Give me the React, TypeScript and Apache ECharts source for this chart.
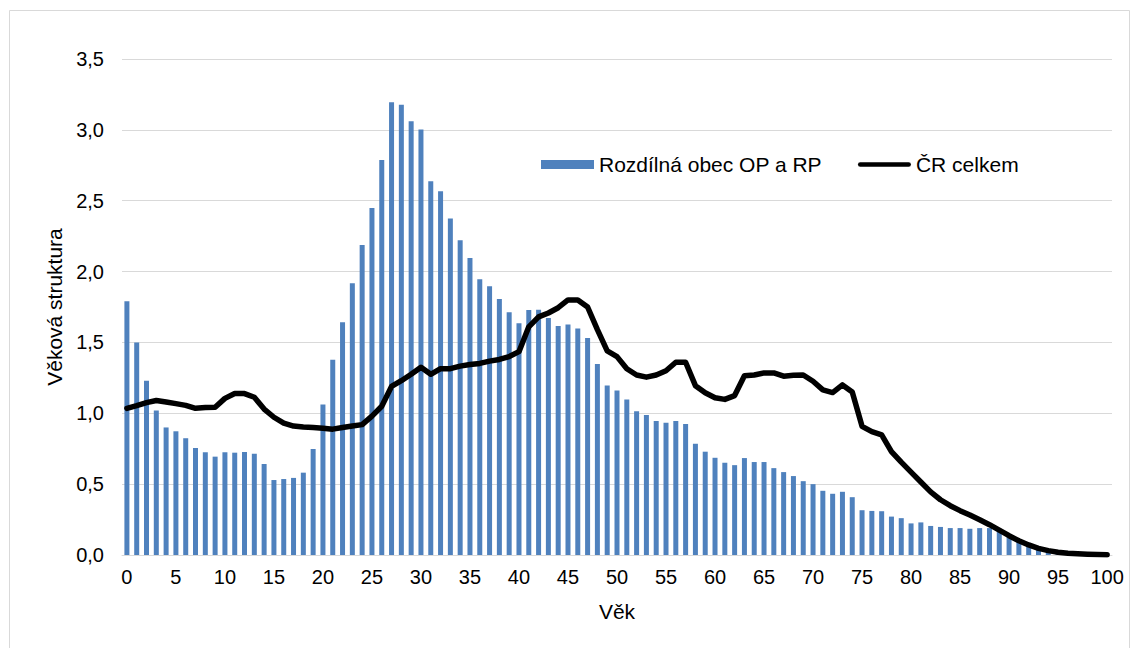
import React, { useEffect, useRef } from "react";
import * as echarts from "echarts";

const ages: string[] = Array.from({ length: 101 }, (_, i) => String(i));

const obecValues: number[] = [
  1.79, 1.5, 1.23, 1.02, 0.9, 0.873, 0.824, 0.755, 0.725, 0.694,
  0.725, 0.722, 0.727, 0.715, 0.642, 0.529, 0.536, 0.544, 0.581, 0.748,
  1.062, 1.377, 1.643, 1.918, 2.188, 2.449, 2.787, 3.194, 3.177, 3.06,
  3.003, 2.637, 2.566, 2.374, 2.221, 2.096, 1.946, 1.897, 1.807, 1.713,
  1.636, 1.728, 1.731, 1.672, 1.616, 1.627, 1.599, 1.531, 1.347, 1.196,
  1.16, 1.097, 1.014, 0.988, 0.946, 0.934, 0.946, 0.925, 0.785, 0.729,
  0.686, 0.651, 0.634, 0.684, 0.656, 0.656, 0.613, 0.585, 0.557, 0.521,
  0.5, 0.453, 0.432, 0.446, 0.408, 0.316, 0.311, 0.309, 0.271, 0.26,
  0.223, 0.23, 0.205, 0.198, 0.19, 0.19, 0.185, 0.19, 0.19, 0.17,
  0.14, 0.11, 0.085, 0.06, 0.04, 0.03, 0.02, 0.012, 0.008, 0.005,
  0.003,
];

const crValues: number[] = [
  1.035, 1.054, 1.075, 1.09, 1.08, 1.068, 1.056, 1.035, 1.04, 1.042,
  1.105, 1.14, 1.139, 1.113, 1.03, 0.972, 0.93, 0.91, 0.904, 0.9,
  0.895, 0.888, 0.9, 0.91, 0.92, 0.98, 1.05, 1.19, 1.23, 1.275,
  1.325, 1.275, 1.315, 1.315, 1.333, 1.344, 1.352, 1.368, 1.38, 1.4,
  1.435, 1.61, 1.68, 1.708, 1.745, 1.8, 1.8, 1.75, 1.59, 1.44,
  1.4, 1.314, 1.27, 1.255, 1.27, 1.3, 1.36, 1.36, 1.195, 1.145,
  1.11, 1.098, 1.125, 1.265, 1.27, 1.285, 1.285, 1.262, 1.268, 1.27,
  1.226, 1.165, 1.146, 1.2, 1.15, 0.908, 0.87, 0.847, 0.73, 0.655,
  0.585, 0.515, 0.445, 0.39, 0.348, 0.313, 0.282, 0.249, 0.214, 0.176,
  0.136, 0.101, 0.071, 0.047, 0.031, 0.02, 0.012, 0.008, 0.005, 0.003,
  0.002,
];

const seriesNames: string[] = ["Rozdílná obec OP a RP", "ČR celkem"];
const xTitle = "Věk";
const yTitle = "Věková struktura";

const FONT = "'Liberation Sans', Arial, sans-serif";

export default function App() {
  const ref = useRef<HTMLDivElement>(null);

  useEffect(() => {
    if (!ref.current) return;
    const chart = echarts.init(ref.current, null, { renderer: "svg" });
    chart.setOption({
      animation: false,
      backgroundColor: "#ffffff",
      textStyle: { fontFamily: FONT },
      graphic: [
        {
          type: "rect",
          shape: { x: 9.5, y: 10.5, width: 1120, height: 700 },
          style: { fill: "none", stroke: "#d9d9d9", lineWidth: 1 },
          silent: true,
        },
      ],
      grid: { left: 122, right: 27, top: 59, bottom: 93 },
      legend: {
        left: 536,
        top: 149,
        itemWidth: 53,
        itemHeight: 9,
        itemGap: 36,
        textStyle: { fontSize: 21, color: "#000000", fontFamily: FONT },
        data: [
          { name: seriesNames[0], icon: "rect" },
          {
            name: seriesNames[1],
            icon: "path://M2.5,0 L54.5,0 A2.5,2.5 0 0 1 54.5,5 L2.5,5 A2.5,2.5 0 0 1 2.5,0 Z",
            itemStyle: { color: "#000000" },
          },
        ],
      },
      xAxis: {
        type: "category",
        data: ages,
        boundaryGap: true,
        name: xTitle,
        nameLocation: "middle",
        nameGap: 46,
        nameTextStyle: { fontSize: 21, color: "#000000", fontFamily: FONT },
        axisLine: { show: true, lineStyle: { color: "#d9d9d9", width: 1 } },
        axisTick: { show: false },
        axisLabel: {
          interval: 4,
          fontSize: 20,
          color: "#000000",
          margin: 12,
          fontFamily: FONT,
        },
        splitLine: { show: false },
      },
      yAxis: {
        type: "value",
        min: 0,
        max: 3.5,
        interval: 0.5,
        name: yTitle,
        nameLocation: "middle",
        nameGap: 53,
        nameTextStyle: { fontSize: 21, color: "#000000", fontFamily: FONT },
        axisLine: { show: false },
        axisTick: { show: false },
        axisLabel: {
          fontSize: 20,
          color: "#000000",
          margin: 18,
          fontFamily: FONT,
          formatter: (v: number) => v.toFixed(1).replace(".", ","),
        },
        splitLine: { show: true, lineStyle: { color: "#d9d9d9", width: 1 } },
      },
      series: [
        {
          name: seriesNames[0],
          type: "bar",
          data: obecValues,
          barWidth: 5,
          itemStyle: { color: "#4f81bd" },
        },
        {
          name: seriesNames[1],
          type: "line",
          data: crValues,
          symbol: "none",
          showSymbol: false,
          lineStyle: { color: "#000000", width: 5.5, cap: "round", join: "round" },
          itemStyle: { color: "#000000" },
        },
      ],
    });
    return () => chart.dispose();
  }, []);

  return (
    <div
      ref={ref}
      style={{ position: "fixed", left: 0, top: 0, width: 1139, height: 648 }}
    />
  );
}
